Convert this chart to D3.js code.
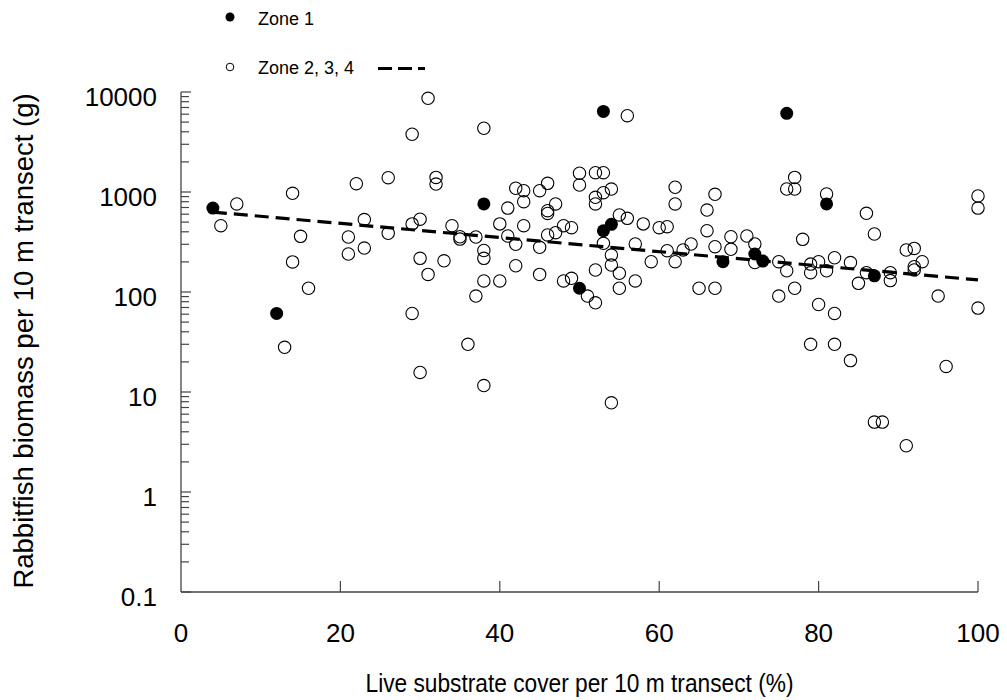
<!DOCTYPE html>
<html>
<head>
<meta charset="utf-8">
<script src="https://cdn.jsdelivr.net/npm/d3@7"></script>
<style>
  body { margin: 0; background: #fff; }
  svg { font-family: "Liberation Sans", Arial, sans-serif; }
</style>
</head>
<body>
<svg id="chart" width="1007" height="700"></svg>
<script>
// Zone 1 transects (filled markers)
const zone1X = [4, 12, 38, 50, 53, 53, 54, 68, 72, 73, 76, 81, 87];
const zone1Y = [690, 61, 760, 109, 6400, 410, 475, 201, 240, 204, 6120, 760, 145];

// Zones 2, 3, 4 transects (open markers)
const otherX = [5, 7, 13, 14, 14, 15, 16,
  21, 21, 22, 23, 23, 26, 26,
  29, 29, 29, 30, 30, 30, 31, 31, 32, 32, 33,
  34, 35, 35, 36, 37, 37, 38, 38, 38, 38, 38,
  40, 40, 41, 41, 42, 42, 42, 43, 43, 43,
  45, 45, 45, 46, 46, 46, 46, 47, 47, 48, 48, 49, 49,
  50, 50, 51, 52, 52, 52, 52, 52, 53, 53, 53,
  54, 54, 54, 54, 55, 55, 55, 56, 56, 57, 57,
  58, 59, 60, 61, 61, 62, 62, 62, 63, 64, 65,
  66, 66, 67, 67, 67, 69, 69, 71, 72, 72,
  75, 75, 76, 76, 77, 77, 77, 78, 79, 79, 79,
  80, 80, 81, 81, 82, 82, 82, 84, 84, 85, 86, 86,
  87, 87, 88, 89, 89, 91, 91, 92, 92, 92, 93, 95, 96,
  100, 100, 100];
const otherY = [460, 760, 28, 970, 200, 360, 109,
  355, 240, 1210, 530, 275, 386, 1390,
  3780, 480, 61, 535, 217, 15.7, 8650, 150, 1400, 1200, 205,
  460, 357, 338, 30, 355, 91, 4340, 260, 217, 129, 11.6,
  480, 129, 690, 363, 1090, 300, 183, 1030, 800, 460,
  1030, 280, 150, 1220, 650, 610, 372, 760, 392, 460, 129, 440, 137,
  1540, 1175, 91, 1560, 885, 760, 166, 78, 1560, 985, 307,
  1070, 234, 186, 7.8, 590, 154, 109, 5800, 545, 302, 129,
  480, 201, 440, 450, 259, 1115, 760, 201, 263, 302, 109,
  660, 410, 948, 284, 109, 357, 267, 363, 302, 197,
  201, 91, 1072, 163, 1400, 1072, 109, 336, 190, 156, 30,
  201, 75, 955, 163, 220, 61, 30, 197, 20.6, 122, 612, 156,
  380, 5, 5, 156, 130, 263, 2.9, 273, 179, 166, 201, 91, 18,
  912, 690, 69];

// fitted trend (dashed), end points
const trendX = [4, 100];
const trendY = [630, 132];

const xTicks = [0, 20, 40, 60, 80, 100];
const yTicks = [0.1, 1, 10, 100, 1000, 10000];
const yTickLabels = ["0.1", "1", "10", "100", "1000", "10000"];

const svg = d3.select("#chart");

const x = d3.scaleLinear().domain([0, 100]).range([181, 978]);
const y = d3.scaleLog().domain([0.1, 10000]).range([592, 92]);

const axisColor = "#444";

// y axis: line + major/minor ticks pointing inward
const minorY = [];
for (let e = -1; e < 4; e++) {
    for (let m = 2; m <= 9; m++) minorY.push(m * Math.pow(10, e));
}
const yAxis = svg.append("g").attr("class", "y-axis");
yAxis.append("line")
    .attr("x1", x(0)).attr("x2", x(0))
    .attr("y1", y(10000)).attr("y2", y(0.1))
    .attr("stroke", axisColor).attr("stroke-width", 1.3);
yAxis.selectAll(".major").data(yTicks).join("line")
    .attr("class", "major")
    .attr("x1", x(0)).attr("x2", x(0) + 10)
    .attr("y1", d => y(d)).attr("y2", d => y(d))
    .attr("stroke", axisColor).attr("stroke-width", 1.2);
yAxis.selectAll(".minor").data(minorY).join("line")
    .attr("class", "minor")
    .attr("x1", x(0)).attr("x2", x(0) + 8)
    .attr("y1", d => y(d)).attr("y2", d => y(d))
    .attr("stroke", axisColor).attr("stroke-width", 1.2);
yAxis.selectAll("text").data(yTicks).join("text")
    .attr("x", 157)
    .attr("y", d => y(d))
    .attr("dy", "0.53em")
    .attr("text-anchor", "end")
    .attr("font-size", 26)
    .text((d, i) => yTickLabels[i]);

// x axis
const xAxis = svg.append("g").attr("class", "x-axis");
xAxis.append("line")
    .attr("x1", x(0)).attr("x2", x(100))
    .attr("y1", y(0.1)).attr("y2", y(0.1))
    .attr("stroke", axisColor).attr("stroke-width", 1.3);
xAxis.selectAll(".tick").data(xTicks.slice(1)).join("line")
    .attr("class", "tick")
    .attr("x1", d => x(d)).attr("x2", d => x(d))
    .attr("y1", y(0.1)).attr("y2", y(0.1) - 11)
    .attr("stroke", axisColor).attr("stroke-width", 1.2);
xAxis.selectAll("text").data(xTicks).join("text")
    .attr("x", d => x(d))
    .attr("y", 642)
    .attr("text-anchor", "middle")
    .attr("font-size", 26)
    .text(d => d);

// axis titles (x title is drawn slightly condensed, as in the original)
svg.append("text")
    .attr("x", (x(0) + x(100)) / 2)
    .attr("y", 692)
    .attr("text-anchor", "middle")
    .attr("font-size", 26)
    .attr("textLength", 428)
    .attr("lengthAdjust", "spacingAndGlyphs")
    .text("Live substrate cover per 10 m transect (%)");

svg.append("text")
    .attr("transform", "translate(33,341) rotate(-90)")
    .attr("text-anchor", "middle")
    .attr("font-size", 27.5)
    .text("Rabbitfish biomass per 10 m transect (g)");

// points
const plot = svg.append("g");
const otherPts = otherX.map((v, i) => ({ x: v, y: otherY[i] }));
const zone1Pts = zone1X.map((v, i) => ({ x: v, y: zone1Y[i] }));

plot.selectAll(".open").data(otherPts).join("circle")
    .attr("class", "open")
    .attr("cx", d => x(d.x)).attr("cy", d => y(d.y))
    .attr("r", 6.2)
    .attr("fill", "none")
    .attr("stroke", "#000")
    .attr("stroke-width", 1.1);

// trend line
const trend = trendX.map((v, i) => [v, trendY[i]]);
plot.append("path")
    .attr("d", d3.line().x(d => x(d[0])).y(d => y(d[1]))(trend))
    .attr("fill", "none")
    .attr("stroke", "#000")
    .attr("stroke-width", 3.2)
    .attr("stroke-dasharray", "14,7");

plot.selectAll(".filled").data(zone1Pts).join("circle")
    .attr("class", "filled")
    .attr("cx", d => x(d.x)).attr("cy", d => y(d.y))
    .attr("r", 6.5)
    .attr("fill", "#000");

// legend
const legend = svg.append("g").attr("font-size", 18);
legend.append("circle").attr("cx", 230).attr("cy", 17).attr("r", 4.5).attr("fill", "#000");
legend.append("text").attr("x", 258).attr("y", 25).text("Zone 1");
legend.append("circle").attr("cx", 230).attr("cy", 67).attr("r", 3.8)
    .attr("fill", "none").attr("stroke", "#000").attr("stroke-width", 1);
legend.append("text").attr("x", 258).attr("y", 74).text("Zone 2, 3, 4");
legend.append("line")
    .attr("x1", 378).attr("x2", 425).attr("y1", 68.5).attr("y2", 68.5)
    .attr("stroke", "#000").attr("stroke-width", 3.2)
    .attr("stroke-dasharray", "14,6");
</script>
</body>
</html>
